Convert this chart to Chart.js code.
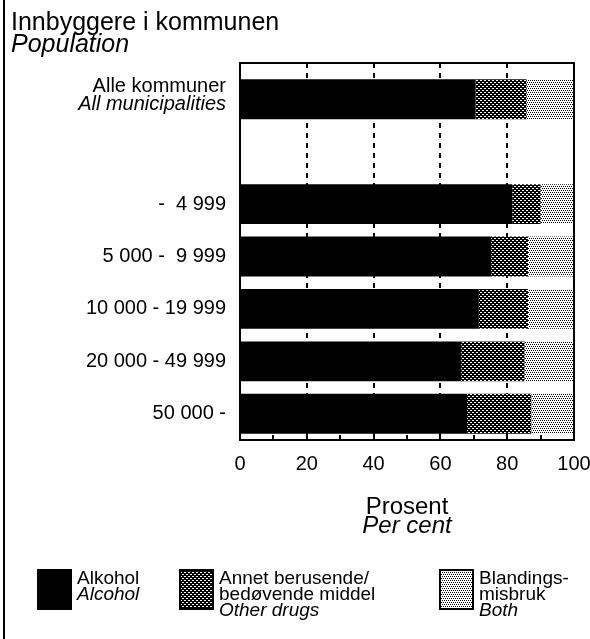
<!DOCTYPE html>
<html>
<head>
<meta charset="utf-8">
<script src="https://cdn.jsdelivr.net/npm/chart.js@4"></script>
<style>
  html, body { margin: 0; padding: 0; background: #fff; }
  #wrap { width: 590px; height: 639px; }
</style>
</head>
<body>
<div id="wrap"><canvas id="myChart" width="590" height="639"></canvas></div>
<script>
const categories = ['Alle kommuner', '', '-  4 999', '5 000 -  9 999', '10 000 - 19 999', '20 000 - 49 999', '50 000 -'];
const categoriesEn = ['All municipalities', '', '', '', '', '', ''];
const alkohol = [70.5, null, 81.5, 75.2, 71.5, 66.2, 68];
const annet = [15.3, null, 8.5, 11, 14.7, 19, 19.2];
const blanding = [14.2, null, 10, 13.8, 13.8, 14.8, 12.8];
const xTicks = [0, 20, 40, 60, 80, 100];
const legendNo = ['Alkohol', 'Annet berusende/\nbedøvende middel', 'Blandings-\nmisbruk'];
const legendEn = ['Alcohol', 'Other drugs', 'Both'];

const FONT = "'Liberation Sans', Arial, Helvetica, sans-serif";
Chart.defaults.font.family = FONT;
Chart.defaults.color = '#000';

// halftone fills like the printed original
function makePattern(bg, fg, dots) {
    const c = document.createElement('canvas');
    c.width = 4; c.height = 4;
    const g = c.getContext('2d');
    g.fillStyle = bg;
    g.fillRect(0, 0, 4, 4);
    g.fillStyle = fg;
    dots.forEach(([x, y]) => g.fillRect(x, y, 1, 1));
    return g.createPattern(c, 'repeat');
}
const darkFill = makePattern('#000', '#fff', [[0, 0], [1, 0], [2, 2], [3, 2]]);
const lightFill = makePattern('#fff', '#000', [[0, 0], [2, 0], [1, 2], [3, 2]]);
const fills = ['#000', darkFill, lightFill];

const frame = {
    id: 'frame',
    beforeDatasetsDraw(chart) {
        const { ctx, chartArea: a, scales: { x } } = chart;
        ctx.save();
        ctx.strokeStyle = '#000';
        ctx.lineWidth = 2;
        ctx.setLineDash([5, 5]);
        [20, 40, 60, 80].forEach(v => {
            const px = Math.round(x.getPixelForValue(v));
            ctx.beginPath();
            ctx.moveTo(px, a.top - 10);
            ctx.lineTo(px, a.bottom);
            ctx.stroke();
        });
        ctx.restore();
    },
    afterDatasetsDraw(chart) {
        const { ctx, chartArea: a, scales: { x, y } } = chart;
        ctx.save();
        ctx.strokeStyle = '#000';
        ctx.lineWidth = 2;
        ctx.strokeRect(a.left, a.top - 10, a.right - a.left, a.bottom - a.top + 10);
        // small ticks every 10 on bottom edge
        for (let v = 10; v < 100; v += 10) {
            const px = Math.round(x.getPixelForValue(v));
            ctx.beginPath();
            ctx.moveTo(px, a.bottom);
            ctx.lineTo(px, a.bottom - 5);
            ctx.stroke();
        }
        // page rule on the left
        ctx.fillStyle = '#000';
        ctx.fillRect(3, 0, 2, chart.height);

        // category labels
        ctx.textAlign = 'right';
        ctx.textBaseline = 'middle';
        categories.forEach((lab, i) => {
            const cy = y.getPixelForTick(i);
            if (categoriesEn[i]) {
                ctx.font = '20px ' + FONT;
                ctx.fillText(lab, 226, cy - 13);
                ctx.font = 'italic 20px ' + FONT;
                ctx.fillText(categoriesEn[i], 226, cy + 5);
            } else if (lab) {
                ctx.font = '20px ' + FONT;
                ctx.fillText(lab, 226, cy);
            }
        });

        // heading
        ctx.textAlign = 'left';
        ctx.textBaseline = 'alphabetic';
        ctx.font = '25px ' + FONT;
        ctx.fillText('Innbyggere i kommunen', 11, 30);
        ctx.font = 'italic 25px ' + FONT;
        ctx.fillText('Population', 11, 52);

        // axis title
        const mid = (a.left + a.right) / 2;
        ctx.textAlign = 'center';
        ctx.font = '24px ' + FONT;
        ctx.fillText('Prosent', mid, 514);
        ctx.font = 'italic 24px ' + FONT;
        ctx.fillText('Per cent', mid, 533);

        // legend
        const boxX = [38, 180, 440];
        ctx.textAlign = 'left';
        chart.data.datasets.forEach((ds, i) => {
            ctx.fillStyle = ds.backgroundColor;
            ctx.fillRect(boxX[i], 570, 33, 39);
            ctx.strokeRect(boxX[i], 570, 33, 39);
            ctx.fillStyle = '#000';
            const lines = legendNo[i].split('\n');
            let by = 584;
            ctx.font = '19px ' + FONT;
            lines.forEach(l => { ctx.fillText(l, boxX[i] + 39, by); by += 16; });
            ctx.font = 'italic 19px ' + FONT;
            ctx.fillText(legendEn[i], boxX[i] + 39, by);
        });
        ctx.restore();
    }
};

const ctx = document.getElementById('myChart').getContext('2d');
new Chart(ctx, {
    type: 'bar',
    data: {
        labels: categories,
        datasets: [
            { label: 'Alkohol', data: alkohol, backgroundColor: fills[0] },
            { label: 'Annet berusende/bedøvende middel', data: annet, backgroundColor: fills[1] },
            { label: 'Blandingsmisbruk', data: blanding, backgroundColor: fills[2] }
        ]
    },
    options: {
        indexAxis: 'y',
        responsive: false,
        animation: false,
        barPercentage: 0.76,
        categoryPercentage: 1,
        layout: { padding: { left: 240, right: 16, top: 73, bottom: 151 } },
        plugins: { legend: { display: false }, tooltip: { enabled: false } },
        scales: {
            x: {
                stacked: true,
                min: 0,
                max: 100,
                afterBuildTicks: axis => { axis.ticks = xTicks.map(v => ({ value: v })); },
                afterFit: axis => { axis.paddingLeft = 0; axis.paddingRight = 0; },
                grid: { display: false, drawTicks: false },
                border: { display: false },
                ticks: { padding: 12, font: { size: 20 }, color: '#000' }
            },
            y: {
                stacked: true,
                display: false
            }
        }
    },
    plugins: [frame]
});
</script>
</body>
</html>
